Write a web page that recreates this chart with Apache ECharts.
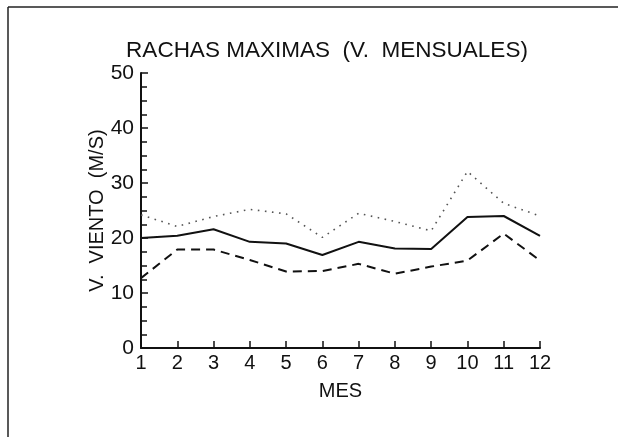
<!DOCTYPE html>
<html>
<head>
<meta charset="utf-8">
<script src="https://cdn.jsdelivr.net/npm/echarts@6/dist/echarts.min.js"></script>
<style>
  html, body { margin: 0; padding: 0; background: #fff; }
  #chart { width: 618px; height: 437px; }
</style>
</head>
<body>
<div id="chart"></div>
<script>
// meses y valores
const meses = [1, 2, 3, 4, 5, 6, 7, 8, 9, 10, 11, 12];
const media = [20.0, 20.4, 21.6, 19.3, 19.0, 16.9, 19.3, 18.1, 18.0, 23.8, 24.0, 20.4];
const minimo = [12.7, 17.9, 17.9, 16.0, 13.9, 14.0, 15.3, 13.5, 14.8, 15.9, 20.8, 15.9];
const maximo = [24.2, 22.1, 23.9, 25.2, 24.4, 20.1, 24.5, 23.0, 21.3, 32.1, 26.3, 24.0];

const toPairs = (vals) => meses.map((m, i) => [m, vals[i]]);

let chart = echarts.init(document.getElementById("chart"));
let font = "Liberation Sans";
let option = {
  backgroundColor: "#fff",
  animation: false,
  title: {
    text: "RACHAS MAXIMAS  (V.  MENSUALES)",
    left: 322,
    top: 34,
    textAlign: "center",
    textStyle: { fontFamily: font, fontSize: 22.5, fontWeight: "normal", color: "#111" },
  },
  grid: { left: 141, right: 78, top: 73, bottom: 89 },
  xAxis: {
    type: "value",
    min: 1,
    max: 12,
    interval: 1,
    name: "MES",
    nameLocation: "middle",
    nameGap: 33,
    nameTextStyle: { fontFamily: font, fontSize: 20, color: "#111" },
    axisLine: { lineStyle: { color: "#111", width: 2 } },
    axisTick: { inside: true, length: 7, lineStyle: { color: "#111", width: 1.5 } },
    axisLabel: { fontFamily: font, fontSize: 20, color: "#111", margin: 5 },
    splitLine: { show: false },
  },
  yAxis: {
    type: "value",
    min: 0,
    max: 50,
    interval: 10,
    name: "V.  VIENTO  (M/S)",
    nameLocation: "middle",
    nameGap: 34,
    nameMoveOverlap: false,
    nameTextStyle: { fontFamily: font, fontSize: 20, color: "#111" },
    axisLine: { show: true, lineStyle: { color: "#111", width: 2 } },
    axisTick: { inside: true, length: 7, lineStyle: { color: "#111", width: 1.5 } },
    minorTick: { show: true, splitNumber: 4, length: 6, lineStyle: { color: "#111", width: 1.5 } },
    axisLabel: { fontFamily: font, fontSize: 21, color: "#111", margin: 7 },
    splitLine: { show: false },
  },
  series: [
    {
      name: "media",
      type: "line",
      data: toPairs(media),
      symbol: "none",
      lineStyle: { color: "#111", width: 2, type: "solid" },
    },
    {
      name: "minimo",
      type: "line",
      data: toPairs(minimo),
      symbol: "none",
      lineStyle: { color: "#111", width: 2, type: [9, 6] },
    },
    {
      name: "maximo",
      type: "line",
      data: toPairs(maximo),
      symbol: "none",
      lineStyle: { color: "#555", width: 1.6, type: [1.6, 5.5] },
    },
  ],
  graphic: [
    // marco de la pagina
    { type: "line", shape: { x1: 8, y1: 7, x2: 618, y2: 7 }, style: { stroke: "#222", lineWidth: 1.5 } },
    { type: "line", shape: { x1: 8, y1: 7, x2: 8, y2: 437 }, style: { stroke: "#222", lineWidth: 1.5 } },
  ],
};
option && chart.setOption(option);
</script>
</body>
</html>
